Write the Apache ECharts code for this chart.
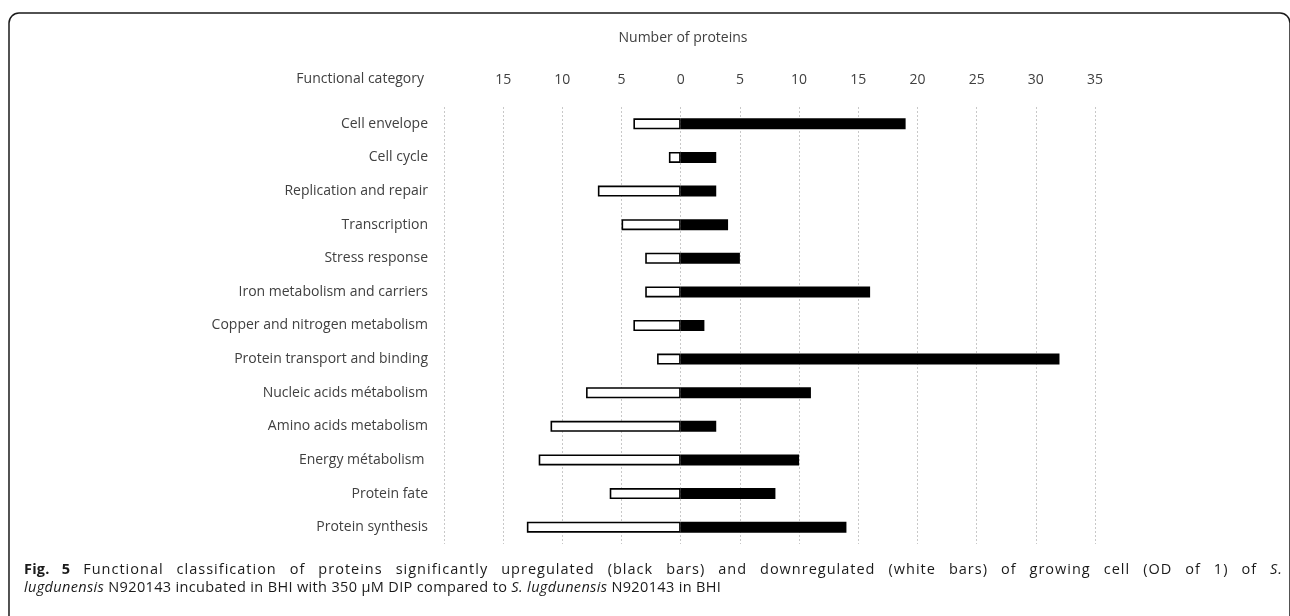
<!DOCTYPE html>
<html>
<head>
<meta charset="utf-8">
<script src="https://cdn.jsdelivr.net/npm/echarts@6/dist/echarts.min.js"></script>
<style>
html,body{margin:0;padding:0;background:#fff;}
#wrap{position:relative;width:1290px;height:616px;overflow:hidden;}
#chart{position:absolute;left:0;top:0;width:1290px;height:616px;}
.cap{position:absolute;left:24px;white-space:nowrap;font-family:"Open Sans","DejaVu Sans",sans-serif;
     font-size:14.5px;color:#1a1a1a;letter-spacing:0.35px;line-height:18px;}
.cap b{font-weight:700;letter-spacing:0.2px;}
.just{width:1259px;white-space:normal;text-align:justify;text-align-last:justify;letter-spacing:1px;}
</style>
</head>
<body>
<div id="wrap">
<div id="chart"></div>
<div class="cap just" style="top:560px;"><b>Fig. 5</b> Functional classification of proteins significantly upregulated (black bars) and downregulated (white bars) of growing cell (OD of 1) of <i>S.</i></div>
<div class="cap" style="top:578px;"><i>lugdunensis</i> N920143 incubated in BHI with 350 µM DIP compared to <i>S. lugdunensis</i> N920143 in BHI</div>
</div>
<script>
const categories = [
  'Cell envelope', 'Cell cycle', 'Replication and repair', 'Transcription',
  'Stress response', 'Iron metabolism and carriers', 'Copper and nitrogen metabolism',
  'Protein transport and binding', 'Nucleic acids métabolism', 'Amino acids metabolism',
  'Energy métabolism ', 'Protein fate', 'Protein synthesis'
];
const upregulated = [19, 3, 3, 4, 5, 16, 2, 32, 11, 3, 10, 8, 14];
const downregulated = [4, 1, 7, 5, 3, 3, 4, 2, 8, 11, 12, 6, 13];
const axisMin = -20, axisMax = 35, axisStep = 5;

const font = '"Open Sans", "DejaVu Sans", sans-serif';
const fs = 14;
const chart = echarts.init(document.getElementById('chart'));
chart.setOption({
  animation: false,
  grid: {left: 444, right: 195, top: 107, bottom: 72, containLabel: false},
  xAxis: {
    type: 'value', position: 'top', min: axisMin, max: axisMax, interval: axisStep,
    axisLine: {show: false}, axisTick: {show: false},
    axisLabel: {
      margin: 20, color: '#404040', fontFamily: font, fontSize: fs,
      formatter: v => (v === axisMin ? '' : String(Math.abs(v)))
    },
    splitLine: {show: true, lineStyle: {color: '#c8c8c8', type: [2, 2], width: 1}}
  },
  yAxis: {
    type: 'category', data: categories, inverse: true,
    axisLine: {show: false}, axisTick: {show: false},
    axisLabel: {margin: 16, color: '#404040', fontFamily: font, fontSize: fs}
  },
  series: [
    {
      name: 'Downregulated', type: 'bar', stack: 'n', barWidth: 11,
      data: downregulated.map(v => -v),
      itemStyle: {color: '#ffffff', borderColor: '#000000', borderWidth: 1.6}
    },
    {
      name: 'Upregulated', type: 'bar', stack: 'n', barWidth: 11,
      data: upregulated,
      itemStyle: {color: '#000000'}
    }
  ],
  graphic: [
    {type: 'rect', shape: {x: 9, y: 13, width: 1281, height: 700, r: 10},
     style: {fill: 'none', stroke: '#1a1a1a', lineWidth: 1.5}, silent: true},
    {type: 'text', x: 683, y: 38,
     style: {text: 'Number of proteins', fill: '#404040', font: fs + 'px ' + font, align: 'center', verticalAlign: 'middle'}},
    {type: 'text', x: 424, y: 79,
     style: {text: 'Functional category', fill: '#404040', font: fs + 'px ' + font, align: 'right', verticalAlign: 'middle'}}
  ]
});
</script>
</body>
</html>
